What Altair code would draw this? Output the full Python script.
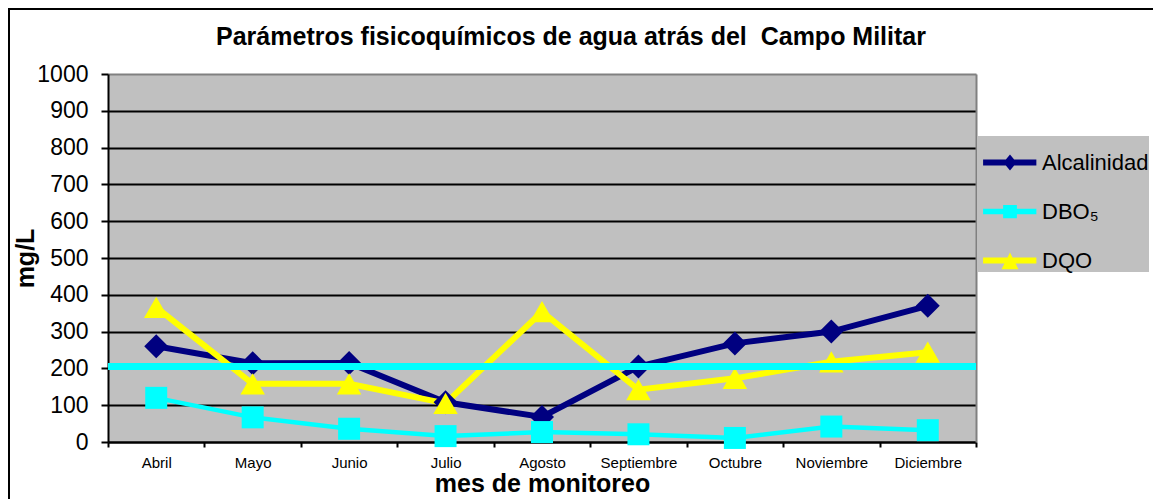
import altair as alt
import pandas as pd

# ---- data ----
meses = ["Abril", "Mayo", "Junio", "Julio", "Agosto", "Septiembre", "Octubre", "Noviembre", "Diciembre"]
alcalinidad = [260, 214, 215, 108, 68, 205, 268, 300, 370]
dbo5 = [120, 67, 36, 16, 27, 21, 11, 42, 32]
dqo = [366, 158, 158, 105, 354, 142, 173, 218, 244]
limite = [205]
series = ["Alcalinidad", "DBO\u2085", "DQO"]
colores = ["#000080", "#00FFFF", "#FFFF00"]
anchos = [6, 4.5, 6]
titulo = "Parámetros fisicoquímicos de agua atrás del\u00a0 Campo Militar"

rows = []
for nombre, vals in zip(series, [alcalinidad, dbo5, dqo]):
    for m, v in zip(meses, vals):
        rows.append({"mes": m, "serie": nombre, "valor": v})
df = pd.DataFrame(rows)

FONT = "Liberation Sans"

x_enc = alt.X(
    "mes:N", sort=meses,
    scale=alt.Scale(type="band", paddingInner=0, paddingOuter=0),
    axis=alt.Axis(
        title="mes de monitoreo", titleFont=FONT, titleFontSize=25, titleFontWeight="bold",
        titleColor="black", titlePadding=1,
        labelFont=FONT, labelFontSize=15, labelColor="black", labelAngle=0, labelPadding=8,
        tickBand="extent", tickColor="black", tickWidth=2, tickSize=5,
        domainColor="black", domainWidth=2, grid=False,
    ),
)
y_scale = alt.Scale(domain=[0, 1000], nice=False)
y_axis = alt.Axis(
    title="mg/L", titleFont=FONT, titleFontSize=25, titleFontWeight="bold",
    titleColor="black", titlePadding=-2,
    values=list(range(0, 1001, 100)), format="d",
    labelFont=FONT, labelFontSize=23, labelColor="black", labelPadding=13,
    tickSize=7, tickWidth=2, tickColor="black",
    domainColor="black", domainWidth=2,
    gridColor=alt.condition("datum.value == 1000", alt.value("#808080"), alt.value("black")),
    gridWidth=2,
)
color_scale = alt.Scale(domain=series, range=colores)


def linea(nombre, color, ancho, axis):
    return alt.Chart(df).transform_filter(alt.datum.serie == nombre).mark_line(
        color=color, strokeWidth=ancho
    ).encode(x=x_enc, y=alt.Y("valor:Q", scale=y_scale, axis=axis))


def puntos(nombre, shape, size, color):
    return alt.Chart(df).transform_filter(alt.datum.serie == nombre).mark_point(
        shape=shape, size=size, filled=True, opacity=1, color=color, strokeWidth=0
    ).encode(x=x_enc, y=alt.Y("valor:Q", scale=y_scale, axis=None))


l1 = linea(series[0], colores[0], anchos[0], y_axis)
l2 = linea(series[1], colores[1], anchos[1], None)
l3 = linea(series[2], colores[2], anchos[2], None)
p1 = puntos(series[0], "diamond", 576, colores[0])
p2 = puntos(series[1], "square", 484, colores[1])
p3 = puntos(series[2], "triangle-up", 600, colores[2])

regla = alt.Chart(pd.DataFrame({"limite": limite})).mark_rule(color="#00FFFF", strokeWidth=7).encode(
    y=alt.Y("limite:Q", scale=y_scale, axis=alt.Axis(
        orient="right", labels=False, ticks=False, grid=False,
        domainColor="#808080", domainWidth=2, title=None)),
)

paths = [
    "M-0.77,-0.11H1.24V0.11H-0.77Z M0.245,-0.3L0.495,0L0.245,0.3L-0.005,0Z",
    "M-0.77,-0.1H1.24V0.1H-0.77Z M-0.015,-0.25H0.505V0.25H-0.015Z",
    "M-0.77,-0.11H1.24V0.11H-0.77Z M0.245,-0.3L0.565,0.33L-0.075,0.33Z",
]
leg = alt.Legend(
    title=None, orient="none", legendX=869, legendY=62, fillColor="#C0C0C0", padding=0,
    labelFont=FONT, labelFontSize=22, labelColor="black", labelOffset=12, labelLimit=300,
    symbolSize=2809, symbolStrokeWidth=0, symbolOpacity=1, rowPadding=11,
)
leyenda = alt.Chart(df).mark_point(filled=True, opacity=0).encode(
    x=x_enc, y=alt.Y("valor:Q", scale=y_scale, axis=None),
    color=alt.Color("serie:N", scale=color_scale, legend=leg),
    shape=alt.Shape("serie:N", scale=alt.Scale(domain=series, range=paths), legend=leg),
)

marco = alt.Chart(pd.DataFrame({"a": [0]})).mark_rect(
    fillOpacity=0, stroke="black", strokeWidth=2
).encode(x=alt.value(-99), x2=alt.value(1060), y=alt.value(-65), y2=alt.value(430))

chart = alt.layer(l1, l2, l3, p1, p2, p3, regla, leyenda, marco).resolve_axis(y="independent").properties(
    width=868, height=368,
    padding={"left": 100, "top": 66, "right": 177, "bottom": 57},
    autosize=alt.AutoSizeParams(type="none"),
    background="white",
    title=alt.Title(text=titulo, font=FONT, fontSize=25, fontWeight="bold", color="black",
                    anchor="middle", dx=29, offset=-62, baseline="alphabetic"),
).configure_view(fill="#C0C0C0", stroke="transparent")

chart.save("out.html", embed_options={"renderer": "svg", "actions": False})
